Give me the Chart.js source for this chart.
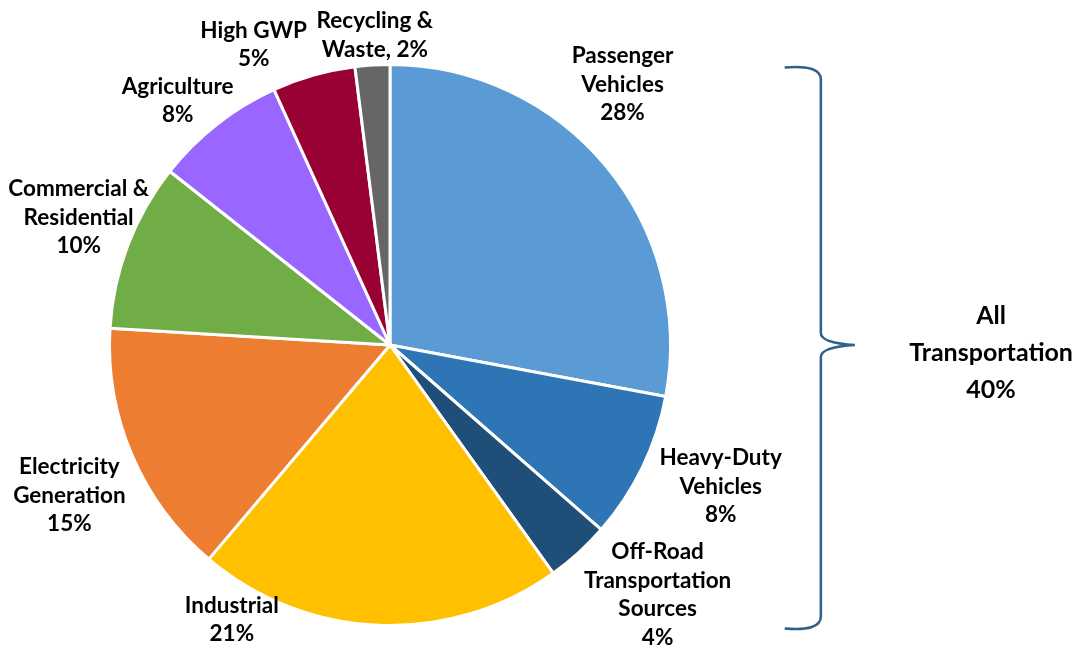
<!DOCTYPE html>
<html>
<head>
<meta charset="utf-8">
<script src="https://cdn.jsdelivr.net/npm/chart.js@4"></script>
<style>
  html, body { margin: 0; padding: 0; background: #fff; }
  #wrap { width: 1075px; height: 650px; }
</style>
</head>
<body>
<div id="wrap"><canvas id="myChart" width="1075" height="650"></canvas></div>
<script>
// sector names (one string per text line) and shares
const categories = [
  ["Passenger", "Vehicles", "28%"],
  ["Heavy-Duty", "Vehicles", "8%"],
  ["Off-Road", "Transportation", "Sources", "4%"],
  ["Industrial", "21%"],
  ["Electricity", "Generation", "15%"],
  ["Commercial &", "Residential", "10%"],
  ["Agriculture", "8%"],
  ["High GWP", "5%"],
  ["Recycling &", "Waste, 2%"]
];
const shares = [28, 8.5, 3.7, 21.1, 14.8, 9.7, 7.6, 4.8, 2.0];
const colors = ["#5B9BD5", "#2E75B6", "#1F4E79", "#FFC000", "#ED7D31", "#70AD47", "#9966FF", "#990033", "#666666"];
const groupLabel = ["All", "Transportation", "40%"];

// label anchors, as fractions of the pie radius from its centre
const labelPos = [
  [0.829, -0.929], [1.179, 0.504], [0.954, 0.891], [-0.564, 0.979],
  [-1.143, 0.536], [-1.11, -0.454], [-0.757, -0.871], [-0.486, -1.071], [-0.054, -1.104]
];

const FONT = "bold 22.5px Lato";
const LINE_H = 28.5;
const GROUP_FONT = "bold 25px Lato";
const GROUP_LINE_H = 37;

function drawLines(ctx, lines, x, y, lh) {
  const top = y - (lines.length - 1) * lh / 2;
  lines.forEach((t, i) => ctx.fillText(t, x, top + i * lh));
}

const labelsPlugin = {
  id: "sliceLabels",
  afterDraw(chart) {
    const ctx = chart.ctx;
    const arc = chart.getDatasetMeta(0).data[0];
    const cx = arc.x, cy = arc.y, r = arc.outerRadius;
    ctx.save();
    ctx.fillStyle = "#000";
    ctx.textAlign = "center";
    ctx.textBaseline = "middle";
    ctx.font = FONT;
    categories.forEach((lines, i) => {
      drawLines(ctx, lines, cx + labelPos[i][0] * r, cy + labelPos[i][1] * r, LINE_H);
    });
    ctx.font = GROUP_FONT;
    drawLines(ctx, groupLabel, cx + 2.143 * r, cy + 0.028 * r, GROUP_LINE_H);

    // curly brace round the transport slices
    const top = cy - r + 3, bot = cy + r + 3;
    const x0 = cx + 1.407 * r, x1 = cx + 1.536 * r, tip = cx + 1.657 * r;
    ctx.strokeStyle = "#2F5F8C";
    ctx.lineWidth = 2.5;
    ctx.beginPath();
    ctx.moveTo(x0, top);
    ctx.quadraticCurveTo(x1, top - 3, x1, top + 12);
    ctx.lineTo(x1, cy - 12);
    ctx.quadraticCurveTo(x1, cy - 2, tip, cy);
    ctx.quadraticCurveTo(x1, cy + 2, x1, cy + 12);
    ctx.lineTo(x1, bot - 12);
    ctx.quadraticCurveTo(x1, bot + 3, x0, bot);
    ctx.stroke();
    ctx.restore();
  }
};

new Chart(document.getElementById("myChart"), {
  type: "pie",
  data: {
    labels: categories.map(l => l.join(" ")),
    datasets: [{
      data: shares,
      backgroundColor: colors,
      borderColor: "#fff",
      borderWidth: 3
    }]
  },
  options: {
    responsive: false,
    animation: false,
    layout: { padding: { left: 108, right: 403, top: 63, bottom: 23 } },
    plugins: {
      legend: { display: false },
      tooltip: { enabled: false }
    }
  },
  plugins: [labelsPlugin]
});
</script>
</body>
</html>
